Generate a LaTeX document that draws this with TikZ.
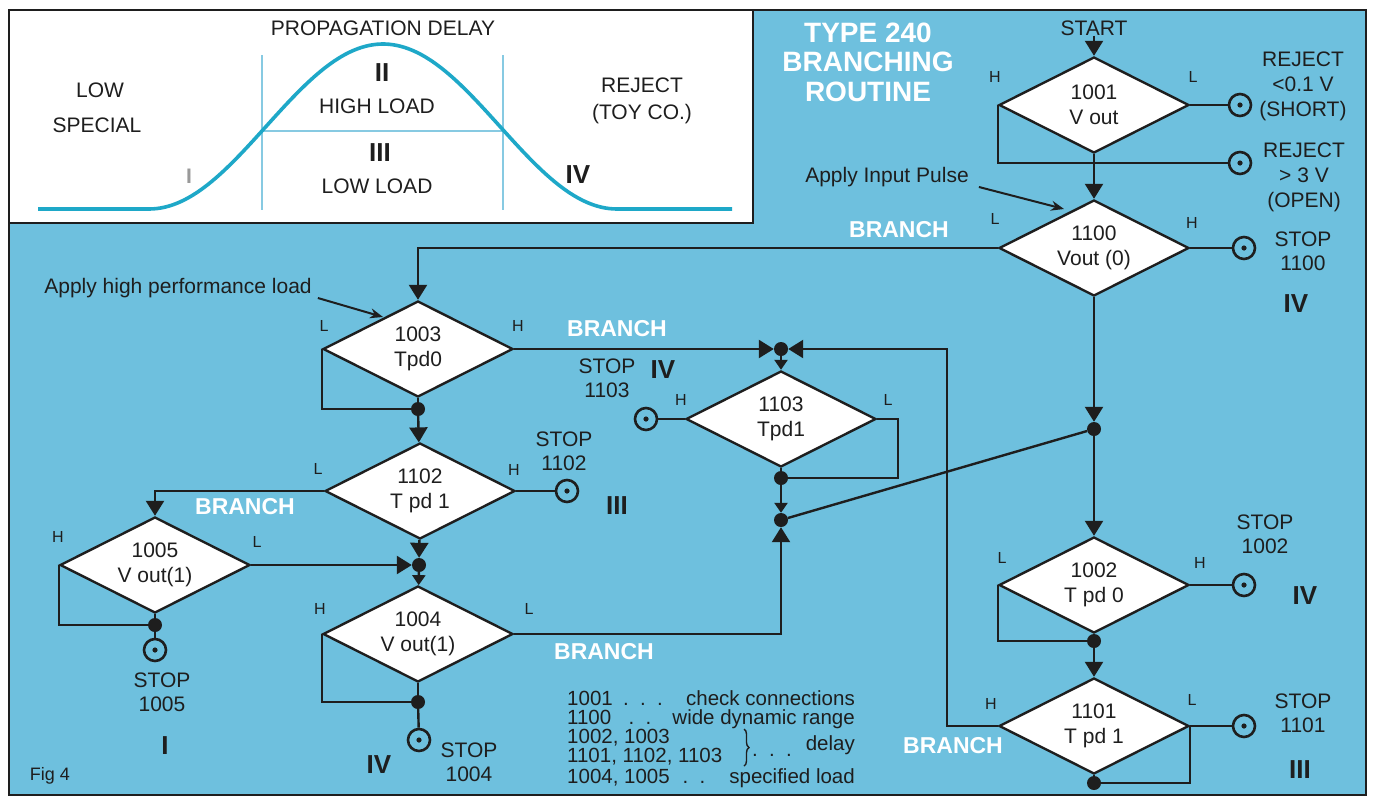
\documentclass[tikz,border=0pt]{standalone}
\usepackage{fontspec}
\setmainfont{Liberation Sans}
\usetikzlibrary{arrows.meta,shapes.geometric,decorations.pathreplacing}
\definecolor{panel}{RGB}{110,192,222}
\definecolor{curveteal}{RGB}{30,168,200}
\definecolor{gridblue}{RGB}{135,202,226}
\definecolor{ink}{RGB}{30,30,30}

\tikzset{
  wire/.style={line width=2.4pt,draw=ink},
  flow/.style={wire,-{Triangle[length=15pt,width=18pt]}},
  sflow/.style={wire,-{Triangle[length=10pt,width=13pt]}},
  note/.style={line width=2pt,draw=ink,-{Stealth[length=13pt,width=10pt]}},
  test/.style={diamond,draw=ink,fill=white,line width=2.4pt,inner sep=0pt,aspect=2,
    minimum width=190pt,minimum height=96pt,align=center,text=ink,font=\fontsize{21}{25}\selectfont},
  term/.style={circle,draw=ink,fill=panel,line width=2.6pt,minimum size=22pt,inner sep=0pt,
    path picture={\fill[ink] (path picture bounding box.center) circle (2.6pt);}},
  jdot/.style={circle,fill=ink,minimum size=14pt,inner sep=0pt},
  lab/.style={font=\fontsize{21}{24}\selectfont,align=center,inner sep=0pt,text=ink},
  hl/.style={font=\fontsize{16}{16}\selectfont,inner sep=0pt,text=ink},
  roman/.style={font=\fontsize{26}{26}\selectfont\bfseries,inner sep=0pt,text=ink},
  branch/.style={font=\fontsize{23}{23}\selectfont\bfseries,text=white,inner sep=0pt},
  leg/.style={font=\fontsize{20.5}{20.5}\selectfont,inner sep=0pt,text height=15pt,text depth=4pt,text=ink},
}

\begin{document}
\begin{tikzpicture}[x=1pt,y=-1pt]
\useasboundingbox (0,0) rectangle (1373,801);
% background panels
\fill[panel] (9,10) rectangle (1366,795);
\filldraw[fill=white,draw=ink,line width=2.4pt] (9,10) rectangle (753,223);
\draw[ink,line width=2pt] (9,10) rectangle (1366,795);

% propagation delay curve
\draw[gridblue,line width=1.3pt] (262,55) -- (262,210) (503,55) -- (503,210) (262,131) -- (503,131);
\draw[curveteal,line width=3.6pt,line join=round] (38,209) -- (149,209)
  -- plot[domain=149:617,samples=120] (\x,{209-82.5*(1+cos((\x-383)/1.3))}) -- (732,209);
\node[lab] (pdelay) at (383,28) {PROPAGATION DELAY};
\node[roman] (rII) at (382,73) {II};
\node[lab] (hiload) at (377,106) {HIGH LOAD};
\node[roman] (rIII) at (380,153) {III};
\node[lab] (loload) at (377,186) {LOW LOAD};
\node[lab] (lowsp) at (100,90) {LOW};
\node[lab] (special) at (97,125) {SPECIAL};
\node[font=\fontsize{21}{21}\selectfont\bfseries,text=gray!80,inner sep=0pt] (rI) at (189,176) {I};
\node[roman] (rIV) at (578,175) {IV};
\node[lab] (toy) at (642,101) {REJECT\\[3pt](TOY CO.)};

% title
\node[font=\fontsize{28}{29.5}\selectfont\bfseries,text=white,align=center,inner sep=0pt] (title) at (868,62) {TYPE 240\\BRANCHING\\ROUTINE};

% decision diamonds
\node[test] (d1001) at (1094,105) {1001\\V out};
\node[test] (d1100) at (1094,248) {1100\\Vout (0)};
\node[test] (d1003) at (418,349) {1003\\Tpd0};
\node[test] (d1103) at (781,419) {1103\\Tpd1};
\node[test] (d1102) at (420,491) {1102\\T pd 1};
\node[test] (d1005) at (155,565) {1005\\V out(1)};
\node[test] (d1004) at (418,634) {1004\\V out(1)};
\node[test] (d1002) at (1094,585) {1002\\T pd 0};
\node[test] (d1101) at (1094,726) {1101\\T pd 1};

% terminals
\node[term] (t1001a) at (1240,105) {};
\node[term] (t1001b) at (1240,163) {};
\node[term] (t1100) at (1244,248) {};
\node[term] (t1002) at (1244,585) {};
\node[term] (t1101) at (1244,726) {};
\node[term] (t1102) at (567,491) {};
\node[term] (t1103) at (646,419) {};
\node[term] (t1005) at (155,650) {};
\node[term] (t1004) at (419,740) {};

% junctions
\node[jdot] (j1) at (1094,429) {};
\node[jdot] (j3) at (781,349) {};
\node[jdot] (j2) at (781,478) {};
\node[jdot] (j4) at (781,520) {};
\node[jdot] (j5) at (419,565) {};
\node[jdot] (k1003) at (418,409) {};
\node[jdot] (k1005) at (155,625) {};
\node[jdot] (k1004) at (418,702) {};
\node[jdot] (k1002) at (1094,641) {};
\node[jdot] (k1101) at (1094,783) {};
\coordinate (b1101) at (947,349);

% connectors
\node[lab] (start) at (1094,28) {START};
\draw[flow] (start) -- (d1001);
\draw[wire] (d1001.east) -- (t1001a);
\draw[wire] (d1001.west) |- (t1001b);
\draw[flow] (d1001) -- (d1100);
\draw[wire] (d1100.east) -- (t1100);
\draw[flow] (d1100.west) -| (d1003.north);
\draw[flow] (d1100) -- (j1);
\draw[flow] (j1) -- (d1002);
\draw[wire] (j1) -- (j4);
\draw[wire] (d1002.east) -- (t1002);
\draw[wire] (d1002.west) |- (k1002);
\draw[wire] (d1002) -- (k1002);
\draw[flow] (k1002) -- (d1101);
\draw[wire] (d1101.east) -- (t1101);
\draw[wire] (d1101.east) |- (k1101);
\draw[wire] (d1101) -- (k1101);
\draw[flow] (d1101.west) -| (b1101) -- (j3);
\draw[flow] (d1003.east) -- (j3);
\draw[sflow] (j3) -- (d1103);
\draw[wire] (d1103.west) -- (t1103);
\draw[wire] (d1103.east) -- ++(21,0) |- (j2);
\draw[wire] (d1103) -- (j2);
\draw[sflow] (j2) -- (j4);
\draw[flow] (d1004.east) -| (j4);
\draw[wire] (d1003.west) |- (k1003);
\draw[wire] (d1003) -- (k1003);
\draw[flow] (k1003) -- (d1102);
\draw[wire] (d1102.east) -- (t1102);
\draw[flow] (d1102.west) -| (d1005.north);
\draw[flow] (d1102) -- (j5);
\draw[flow] (d1005.east) -- (j5);
\draw[sflow] (j5) -- (d1004);
\draw[wire] (d1005.west) |- (k1005);
\draw[wire] (d1005) -- (k1005);
\draw[wire] (k1005) -- (t1005);
\draw[wire] (d1004.west) |- (k1004);
\draw[wire] (d1004) -- (k1004);
\draw[wire] (k1004) -- (t1004);

% notes
\node[lab] (pulse) at (887,177) {Apply Input Pulse};
\coordinate (pulsetip) at (1064,209);
\draw[note] ([xshift=10pt]pulse.south east) -- (pulsetip);
\node[lab] (hiperf) at (178,288) {Apply high performance load};
\coordinate (hiperftip) at (383,317);
\draw[note] ([xshift=6pt]hiperf.south east) -- (hiperftip);

% H / L labels
\node[hl] at (995,77) {H};
\node[hl] at (1193,77) {L};
\node[hl] at (995,219) {L};
\node[hl] at (1192,223) {H};
\node[hl] at (324,326) {L};
\node[hl] at (518,326) {H};
\node[hl] at (318,469) {L};
\node[hl] at (514,470) {H};
\node[hl] at (58,537) {H};
\node[hl] at (257,542) {L};
\node[hl] at (320,609) {H};
\node[hl] at (529,609) {L};
\node[hl] at (681,400) {H};
\node[hl] at (888,400) {L};
\node[hl] at (1002,558) {L};
\node[hl] at (1200,563) {H};
\node[hl] at (991,704) {H};
\node[hl] at (1192,700) {L};

% outcome labels
\node[lab] (rejs) at (1303,86) {REJECT\\[1pt]\textless 0.1 V\\[1pt](SHORT)};
\node[lab] (rejo) at (1304,177) {REJECT\\[1pt]\textgreater\ 3 V\\[1pt](OPEN)};
\node[lab] (s1100) at (1303,251) {STOP\\1100};
\node[roman] at (1296,304) {IV};
\node[lab] (s1103) at (607,378) {STOP\\1103};
\node[roman] at (663,370) {IV};
\node[lab] (s1102) at (564,451) {STOP\\1102};
\node[roman] at (617,506) {III};
\node[lab] (s1005) at (162,692) {STOP\\1005};
\node[roman] at (165,746) {I};
\node[lab] (s1004) at (469,762) {STOP\\1004};
\node[roman] at (379,765) {IV};
\node[lab] (s1002) at (1265,534) {STOP\\1002};
\node[roman] at (1305,596) {IV};
\node[lab] (s1101) at (1303,713) {STOP\\1101};
\node[roman] at (1300,770) {III};

% branch marks
\node[branch] at (899,230) {BRANCH};
\node[branch] at (617,329) {BRANCH};
\node[branch] at (245,507) {BRANCH};
\node[branch] at (604,652) {BRANCH};
\node[branch] at (953,746) {BRANCH};

% legend
\node[leg,anchor=west] at (567,700) {1001};
\node[leg] at (643,700) {.\ \ .\ \ .};
\node[leg,anchor=east] at (855,700) {check connections};
\node[leg,anchor=west] at (567,719) {1100};
\node[leg] at (640,719) {.\ \ .};
\node[leg,anchor=east] at (855,719) {wide dynamic range};
\node[leg,anchor=west] at (567,738) {1002, 1003};
\node[leg,anchor=west] at (567,757) {1101, 1102, 1103};
\draw[ink,line width=1.4pt,decorate,decoration={brace,amplitude=5pt}] (744,729) -- (744,766);
\node[leg] at (772,751) {.\ \ .\ \ .};
\node[leg,anchor=east] at (855,745) {delay};
\node[leg,anchor=west] at (567,778) {1004, 1005};
\node[leg] at (694,778) {.\ \ .};
\node[leg,anchor=east] at (855,778) {specified load};
\node[font=\fontsize{18}{18}\selectfont,inner sep=0pt,text=ink] (fig) at (50,776) {Fig 4};
\end{tikzpicture}
\end{document}
